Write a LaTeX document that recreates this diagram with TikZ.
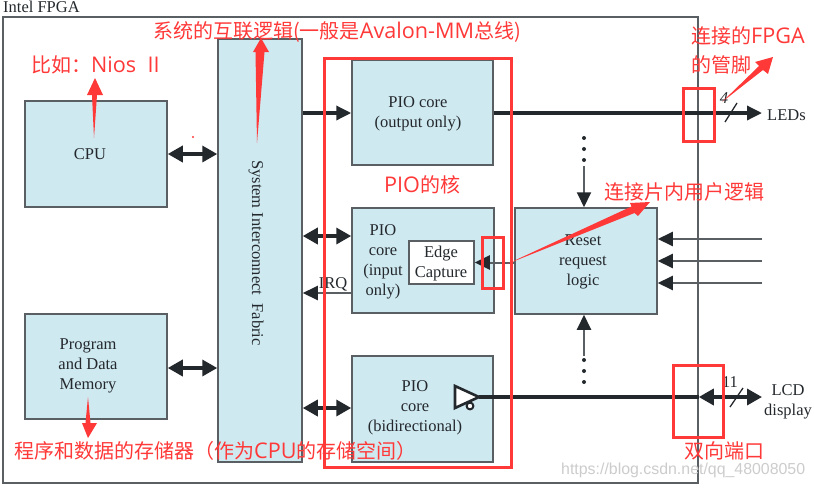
\documentclass[tikz,border=0pt]{standalone}
\usepackage{fontspec}
\setmainfont{Liberation Serif}
\newfontfamily\cjk{Noto Sans CJK SC}
\newfontfamily\rl[Scale=1.08]{Open Sans}
\newfontfamily\wmfont{Liberation Sans}
\usetikzlibrary{arrows.meta,calc}
\definecolor{boxfill}{HTML}{CFE9F1}
\definecolor{boxline}{HTML}{5A5F63}
\definecolor{ink}{HTML}{23282C}
\definecolor{redmark}{HTML}{FF3838}
\tikzset{
  x=1pt,y=-1pt,
  blk/.style={draw=boxline,line width=1.5pt,fill=boxfill,inner sep=0pt,anchor=north west,xshift=-0.75pt,yshift=0.75pt},
  txt/.style={font=\fontsize{16.5}{20}\selectfont,text=ink,align=center,inner sep=0pt},
  redtxt/.style={font=\cjk\fontsize{20}{24}\selectfont,text=redmark,anchor=west,inner sep=0pt},
  redbox/.style={draw=redmark,line width=3pt,fill=none,inner sep=0pt,anchor=north west,xshift=-1.5pt,yshift=1.5pt},
  wedge/.style={fill=redmark,draw=none},
  heavy/.style={draw=ink,line width=3.4pt},
  lite/.style={draw=boxline,line width=2pt},
  hd/.tip={Triangle[length=15pt,width=14pt,color=ink]},
  hdb/.tip={Triangle[length=15pt,width=16pt,color=ink]},
}
\begin{document}
\begin{tikzpicture}
\useasboundingbox (0,0) rectangle (814,488);
% frame
\node[blk,fill=white,minimum width=695,minimum height=466] (fpga) at (3,17) {};
\node[txt,anchor=west] (fpgat) at (3,6.5) {Intel FPGA};
% blocks
\node[blk,minimum width=142,minimum height=106] (cpu) at (25,101) {};
\node[blk,minimum width=142,minimum height=105] (mem) at (25,314) {};
\node[blk,minimum width=84,minimum height=423] (fab) at (218,39) {};
\node[blk,minimum width=141,minimum height=105] (out) at (352,60) {};
\node[blk,minimum width=142,minimum height=105] (in) at (352,208) {};
\node[blk,minimum width=141,minimum height=106] (bi) at (352,356) {};
\node[blk,minimum width=142,minimum height=106] (rst) at (515,208) {};
\node[blk,fill=white,minimum width=65,minimum height=43] (edge) at (409,241) {};
% block texts
\node[txt] (cput) at (90,154) {CPU};
\node[txt] (memt) at (88,366) {Program\\and Data\\Memory};
\node[txt,rotate=-90] (fabt) at (256,253) {System Interconnect\ \ Fabric};
\node[txt] (outt) at (418,114) {PIO core\\(output only)};
\node[txt] (int) at (383,262) {PIO\\core\\(input\\only)};
\node[txt] (edget) at (441,264) {Edge\\Capture};
\node[txt] (bit) at (415,407.5) {PIO\\core\\(bidirectional)};
\node[txt] (rstt) at (583,261.5) {Reset\\request\\logic};
\node[txt,anchor=west] (leds) at (767,115) {LEDs};
\node[txt] (lcd) at (788,402) {LCD\\display};
\node[txt] (irq) at (333,284) {IRQ};
\node[txt] (four) at (724,98) {\itshape 4};
\node[txt] (eleven) at (730,382) {11};
% levels and free ends
\coordinate (ya) at (0,236);
\coordinate (yb) at (0,293);
\coordinate (yc) at (0,408);
\coordinate (yd) at (0,113);
\coordinate (ye) at (0,397);
\coordinate (yf) at (0,154);
\coordinate (yg) at (0,368);
\coordinate (ledend) at (762,113);
\coordinate (lcdend) at (762,397);
\coordinate (in1) at (762,239);
\coordinate (in2) at (762,261);
\coordinate (in3) at (762,283);
\coordinate (topd) at (584,166);
\coordinate (botd) at (584,356);
\coordinate (buf) at (479,397);
% heavy connectors
\draw[heavy,{hdb}-{hdb}] (cpu.east |- yf) -- (fab.west |- yf);
\draw[heavy,{hdb}-{hdb}] (mem.east |- yg) -- (fab.west |- yg);
\draw[heavy,{hdb}-{hdb}] (fab.east |- ya) -- (in.west |- ya);
\draw[heavy,{hdb}-{hdb}] (fab.east |- yc) -- (bi.west |- yc);
\draw[heavy,-{hd}] (fab.east |- yd) -- (out.west |- yd);
\draw[heavy,-{hd}] (out.east |- yd) -- (ledend);
% buffer
\draw[heavy] (buf) -- (fpga.east |- ye);
\draw[ink,line width=2.6pt,fill=white] (455,386) -- (479,397) -- (455,408) -- cycle;
\draw[ink,line width=2pt,fill=white] (470,406) circle (3.4);
\draw[heavy,{hdb}-{hdb}] (fpga.east |- ye) -- (lcdend);
% thin connectors
\draw[lite,-{hd}] (in.west |- yb) -- (fab.east |- yb);
\draw[lite,-{hd}] (rst.west |- edge.east) -- (edge.east);
\draw[lite,-{hd}] (in1) -- (rst.east |- in1);
\draw[lite,-{hd}] (in2) -- (rst.east |- in2);
\draw[lite,-{hd}] (in3) -- (rst.east |- in3);
\draw[lite,-{hd}] (topd) -- (rst.north -| topd);
\draw[lite,-{hd}] (botd) -- (rst.south -| botd);
\foreach \yy in {138,149,160}{\fill[ink] (584,\yy) circle (2);}
\foreach \yy in {360,371,382}{\fill[ink] (584,\yy) circle (2);}
\draw[ink,line width=1.3pt] (725,122) -- (737,103);
\draw[ink,line width=1.3pt] (730,407) -- (743,388);
% red boxes
\node[redbox,minimum width=187,minimum height=409] (r1) at (324,58) {};
\node[redbox,minimum width=31,minimum height=53] (r2) at (683,88) {};
\node[redbox,minimum width=21,minimum height=51] (r3) at (482,237) {};
\node[redbox,minimum width=50,minimum height=72] (r4) at (673,365) {};
% red wedges
\fill[wedge] (95,78) -- (103,95) -- (97,95) -- (94,138) -- (92,95) -- (87,95) -- cycle;
\fill[wedge] (261,38) -- (269,52) -- (264.5,52) -- (257,143) -- (255.5,52) -- (253,52) -- cycle;
\fill[wedge] (773,57) -- (768,74) -- (763,70) -- (722,102) -- (759,66) -- (755,62) -- cycle;
\fill[wedge] (650,202) -- (638,216) -- (634.5,213) -- (507,264) -- (631.5,206.5) -- (630,203) -- cycle;
\fill[wedge] (88,438) -- (97,423) -- (90.5,423) -- (88,397) -- (85.5,423) -- (82,423) -- cycle;
\fill[redmark] (193,137) circle (1.2);
% red texts
\node[redtxt] (n1) at (31,65) {比如：{\rl Nios\ \ II}};
\node[redtxt] (n2) at (153,32) {系统的互联逻辑(一般是{\rl Avalon-MM}总线)};
\node[redtxt] (n3) at (691,36) {连接的{\rl FPGA}};
\node[redtxt] (n4) at (691,65) {的管脚};
\node[redtxt] (n5) at (384,185) {{\rl PIO}的核};
\node[redtxt] (n6) at (604,192) {连接片内用户逻辑};
\node[redtxt] (n7) at (14,451) {程序和数据的存储器（作为{\rl CPU}的存储空间）};
\node[redtxt] (n8) at (684,451) {双向端口};
% watermark
\node[font=\wmfont\fontsize{15.9}{18}\selectfont,text=black!20,anchor=west,inner sep=0pt] (wm) at (561,470) {https://blog.csdn.net/qq\_48008050};
\end{tikzpicture}
\end{document}
